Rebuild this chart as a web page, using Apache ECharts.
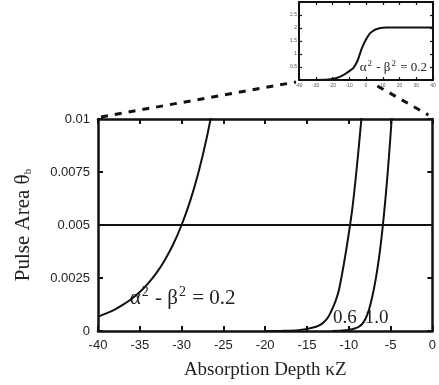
<!DOCTYPE html>
<html>
<head>
<meta charset="utf-8">
<script src="https://cdn.jsdelivr.net/npm/echarts@6/dist/echarts.min.js"></script>
<style>html,body{margin:0;padding:0;background:#fff}#c{width:439px;height:385px}</style>
</head>
<body>
<div id="c"></div>
<script>
// ---- data ----
const xTicks = [-40, -35, -30, -25, -20, -15, -10, -5, 0];
const yTicks = ['0', '0.0025', '0.005', '0.0075', '0.01'];
const refLevel = 0.005;
const refX = [-40, 0];

const c02X = [-40, -39, -38, -37, -36, -35, -34, -33, -32, -31, -30, -29, -28, -27, -26];
const c02Y = [0.00068, 0.00083, 0.00101, 0.00124, 0.00151, 0.00184, 0.00225, 0.00274, 0.00335, 0.00409, 0.0050, 0.0061, 0.00745, 0.0091, 0.0111];

const c06X = [-20, -19, -18, -17, -16, -15, -14.4, -14.0, -13.6, -13.2, -12.8, -12.4, -12.0, -11.6, -11.2, -10.8, -10.4, -10.0, -9.6, -9.2, -8.8, -8.4];
const c06Y = [0, 0.000002, 0.000006, 0.000015, 0.00004, 0.0001, 0.00015, 0.00019, 0.00025, 0.00035, 0.00049, 0.0007, 0.00102, 0.0014, 0.0019, 0.0027, 0.0036, 0.0046, 0.0057, 0.0071, 0.0087, 0.0104];

const c10X = [-12, -11, -10.4, -10.0, -9.6, -9.2, -8.8, -8.4, -8.0, -7.6, -7.2, -6.8, -6.4, -6.0, -5.6, -5.2, -4.8];
const c10Y = [0, 0.00001, 0.00003, 0.00005, 0.00008, 0.00013, 0.0002, 0.00033, 0.00058, 0.00098, 0.0016, 0.0024, 0.0034, 0.0047, 0.0063, 0.0082, 0.0104];

// inset (full pulse-area curve for alpha^2 - beta^2 = 0.2)
const insetX = [-40, -35, -30, -25, -22.5, -20, -17.5, -15, -12.5, -10, -7.5, -5, -2.5, 0, 2.5, 5, 7.5, 10, 12.5, 20, 30, 40];
const insetY = [0, 0.001, 0.002, 0.008, 0.02, 0.04, 0.08, 0.14, 0.23, 0.34, 0.47, 0.75, 1.22, 1.56, 1.8, 1.92, 1.98, 2.01, 2.02, 2.02, 2.02, 2.02];

const labelMain = '{n|α}{s|2}{n| - β}{s|2}{n| = 0.2}';
const label06 = '0.6';
const label10 = '1.0';

const zip = (xs, ys) => xs.map((x, i) => [x, ys[i]]);

const chart = echarts.init(document.getElementById('c'), null, {renderer: 'canvas'});
const sans = 'Liberation Sans, Arial, sans-serif';
const serif = 'Liberation Serif, Times New Roman, serif';
const black = '#111';

const mainTick = {show: true, inside: true, length: 5, lineStyle: {color: black, width: 2}};
const insetTick = {show: true, inside: true, length: 3, lineStyle: {color: black, width: 1.2}};
const curve = {type: 'line', smooth: 0.3, showSymbol: false, clip: true,
  lineStyle: {color: black, width: 2}};

const option = {
  animation: false,
  backgroundColor: '#fff',
  grid: [
    {left: 98, right: 5, top: 119, bottom: 53, containLabel: false},
    {left: 299, width: 134, top: 2, height: 78, containLabel: false}
  ],
  xAxis: [
    {
      gridIndex: 0, type: 'value', min: -40, max: 0, interval: 5,
      axisLine: {show: true, onZero: false, lineStyle: {color: black, width: 2.5}},
      axisTick: mainTick,
      splitLine: {show: false},
      axisLabel: {color: '#222', fontFamily: sans, fontSize: 13, margin: 8,
        formatter: v => String(xTicks[Math.round((v + 40) / 5)])},
      name: 'Absorption Depth κZ', nameLocation: 'middle', nameGap: 30,
      nameTextStyle: {fontFamily: serif, fontSize: 19, color: '#222'}
    },
    {
      gridIndex: 0, type: 'value', position: 'top', min: -40, max: 0, interval: 5,
      axisLine: {show: true, onZero: false, lineStyle: {color: black, width: 2.5}},
      axisTick: mainTick, axisLabel: {show: false}, splitLine: {show: false}
    },
    {
      gridIndex: 1, type: 'value', min: -40, max: 40, interval: 10,
      axisLine: {show: true, onZero: false, lineStyle: {color: black, width: 2}},
      axisTick: insetTick, splitLine: {show: false},
      axisLabel: {color: '#555', fontFamily: sans, fontSize: 5, margin: 3}
    },
    {
      gridIndex: 1, type: 'value', position: 'top', min: -40, max: 40, interval: 10,
      axisLine: {show: true, onZero: false, lineStyle: {color: black, width: 2}},
      axisTick: insetTick, axisLabel: {show: false}, splitLine: {show: false}
    }
  ],
  yAxis: [
    {
      gridIndex: 0, type: 'value', min: 0, max: 0.01, interval: 0.0025,
      axisLine: {show: true, onZero: false, lineStyle: {color: black, width: 2.5}},
      axisTick: mainTick, splitLine: {show: false},
      axisLabel: {color: '#222', fontFamily: sans, fontSize: 13, margin: 8,
        formatter: v => yTicks[Math.round(v / 0.0025)]},
      name: '{a|Pulse Area θ}{b|b}', nameLocation: 'middle', nameGap: 64, nameRotate: 90,
      nameTextStyle: {
        color: '#222',
        rich: {
          a: {fontFamily: serif, fontSize: 21, color: '#222', verticalAlign: 'bottom', lineHeight: 24},
          b: {fontFamily: serif, fontSize: 11, color: '#222', verticalAlign: 'bottom', lineHeight: 18}
        }
      }
    },
    {
      gridIndex: 0, type: 'value', position: 'right', min: 0, max: 0.01, interval: 0.0025,
      axisLine: {show: true, onZero: false, lineStyle: {color: black, width: 2.5}},
      axisTick: mainTick, axisLabel: {show: false}, splitLine: {show: false}
    },
    {
      gridIndex: 1, type: 'value', min: 0, max: 3, interval: 0.5,
      axisLine: {show: true, onZero: false, lineStyle: {color: black, width: 2}},
      axisTick: insetTick, splitLine: {show: false},
      axisLabel: {color: '#555', fontFamily: sans, fontSize: 5, margin: 2, showMinLabel: false, showMaxLabel: false}
    },
    {
      gridIndex: 1, type: 'value', position: 'right', min: 0, max: 3, interval: 0.5,
      axisLine: {show: true, onZero: false, lineStyle: {color: black, width: 2}},
      axisTick: insetTick, axisLabel: {show: false}, splitLine: {show: false}
    }
  ],
  series: [
    {type: 'line', xAxisIndex: 0, yAxisIndex: 0, data: refX.map(x => [x, refLevel]),
      showSymbol: false, lineStyle: {color: black, width: 1.8}},
    Object.assign({}, curve, {xAxisIndex: 0, yAxisIndex: 0, data: zip(c02X, c02Y)}),
    Object.assign({}, curve, {xAxisIndex: 0, yAxisIndex: 0, data: zip(c06X, c06Y)}),
    Object.assign({}, curve, {xAxisIndex: 0, yAxisIndex: 0, data: zip(c10X, c10Y)}),
    Object.assign({}, curve, {xAxisIndex: 2, yAxisIndex: 2, data: zip(insetX, insetY)})
  ]
};
chart.setOption(option);

// annotations and zoom guide lines placed via the axes' own scales
const p = (g, x, y) => chart.convertToPixel({gridIndex: g}, [x, y]);
const mainTL = p(0, -40, 0.01), mainTR = p(0, 0, 0.01);
const insBL = p(1, -40, 0), insB5 = p(1, 5, 0);
const a1 = p(0, -36.2, 0.0016), a2 = p(0, -11.9, 0.0006), a3 = p(0, -8.1, 0.0006);
const a4 = p(1, -3.8, 0.5);
const richMain = (big, small, raise) => ({
  n: {fontFamily: serif, fontSize: big, fill: '#222', verticalAlign: 'bottom', lineHeight: big + 2},
  s: {fontFamily: serif, fontSize: small, fill: '#222', verticalAlign: 'bottom', lineHeight: big + 2, padding: [0, 1, raise, 1]}
});
chart.setOption({
  graphic: [
    {type: 'line', shape: {x1: mainTL[0] + 3, y1: mainTL[1] - 2, x2: insBL[0] - 3, y2: insBL[1] + 2},
      style: {stroke: black, lineWidth: 3, lineDash: [7, 7]}},
    {type: 'line', shape: {x1: insB5[0] + 3, y1: insB5[1] + 6, x2: mainTR[0] - 4, y2: mainTR[1] - 4},
      style: {stroke: black, lineWidth: 3, lineDash: [7, 7]}},
    {type: 'text', x: a1[0], y: a1[1], style: {text: labelMain, rich: richMain(21, 14, 9), fill: '#222', verticalAlign: 'middle', align: 'left'}},
    {type: 'text', x: a2[0], y: a2[1], style: {text: label06, font: '19px ' + serif, fill: '#222', verticalAlign: 'middle', align: 'left'}},
    {type: 'text', x: a3[0], y: a3[1], style: {text: label10, font: '19px ' + serif, fill: '#222', verticalAlign: 'middle', align: 'left'}},
    {type: 'text', x: a4[0], y: a4[1], style: {text: labelMain, rich: richMain(13, 9, 6), fill: '#222', verticalAlign: 'middle', align: 'left'}}
  ]
});
</script>
</body>
</html>
